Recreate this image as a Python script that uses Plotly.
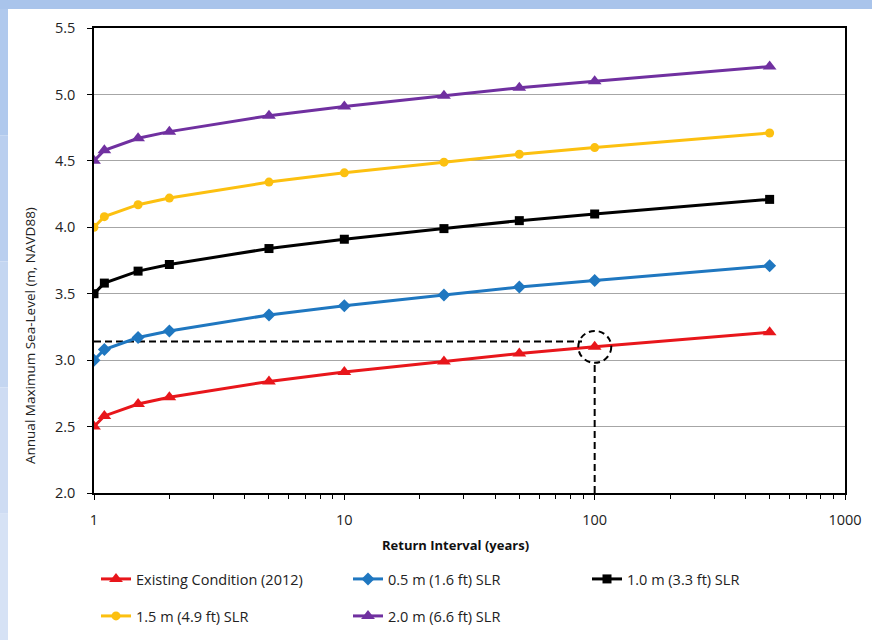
import plotly.graph_objects as go

# ---- data ----
return_interval = [1, 1.1, 1.5, 2, 5, 10, 25, 50, 100, 500]
existing_2012 = [2.50, 2.58, 2.67, 2.72, 2.84, 2.91, 2.99, 3.05, 3.10, 3.21]
slr_0_5 = [3.00, 3.08, 3.17, 3.22, 3.34, 3.41, 3.49, 3.55, 3.60, 3.71]
slr_1_0 = [3.50, 3.58, 3.67, 3.72, 3.84, 3.91, 3.99, 4.05, 4.10, 4.21]
slr_1_5 = [4.00, 4.08, 4.17, 4.22, 4.34, 4.41, 4.49, 4.55, 4.60, 4.71]
slr_2_0 = [4.50, 4.58, 4.67, 4.72, 4.84, 4.91, 4.99, 5.05, 5.10, 5.21]

names = ["Existing Condition (2012)", "0.5 m (1.6 ft) SLR", "1.0 m (3.3 ft) SLR",
         "1.5 m (4.9 ft) SLR", "2.0 m (6.6 ft) SLR"]
series = [existing_2012, slr_0_5, slr_1_0, slr_1_5, slr_2_0]
colors = ["#e8161b", "#1f77c0", "#000000", "#fcc010", "#7030a0"]
symbols = ["triangle-up", "diamond", "square", "circle", "triangle-up"]
sizes = [12, 10, 9, 9, 12]

x_ticks = [1, 10, 100, 1000]
x_ticktext = ["1", "10", "100", "1000"]
y_ticks = [2.0, 2.5, 3.0, 3.5, 4.0, 4.5, 5.0, 5.5]

x_title = "<b>Return Interval (years)</b>"
y_title = "Annual Maximum Sea-Level (m, NAVD88)"

# reference (dashed guide) values
ref_level = 3.14
ref_interval = 100
ref_h_end = 89
ref_v_top = 2.98
circle_x = [86, 116.5]
circle_y = [2.98, 3.22]

FONT = "Open Sans"
W, H = 872, 640
L, R, T, B = 94, 27, 28, 147
PW, PH = W - L - R, H - T - B

fig = go.Figure()

# dashed guide lines
fig.add_trace(go.Scatter(x=[1, ref_h_end], y=[ref_level, ref_level], mode="lines",
                         line=dict(color="black", width=2, dash="7px,4px"),
                         showlegend=False, hoverinfo="skip"))
fig.add_trace(go.Scatter(x=[ref_interval, ref_interval], y=[2.0, ref_v_top], mode="lines",
                         line=dict(color="black", width=2, dash="7px,4px"),
                         showlegend=False, hoverinfo="skip"))

# legend placements (container px): (text_x, y)
leg_pos = [(137, 579), (389, 579), (628, 579), (137, 616), (389, 616)]
leg_ids = ["legend", "legend2", "legend3", "legend4", "legend5"]

for i, (nm, ys) in enumerate(zip(names, series)):
    fig.add_trace(go.Scatter(
        x=return_interval, y=ys, name=nm, mode="lines+markers",
        line=dict(color=colors[i], width=3),
        marker=dict(symbol=symbols[i], size=sizes[i], color=colors[i]),
        legend=leg_ids[i],
    ))

legend_layouts = {}
for lid, (tx, ty) in zip(leg_ids, leg_pos):
    legend_layouts[lid] = dict(
        xref="container", yref="container",
        x=(tx - 41) / W, y=1 - ty / H,
        xanchor="left", yanchor="middle",
        bgcolor="rgba(0,0,0,0)", font=dict(family=FONT, size=14.5, color="#222"),
    )


def px_x(p):
    return (p - L) / PW


def px_y(p):
    return 1 - (p - T) / PH


shapes = [
    dict(type="rect", xref="paper", yref="paper", x0=px_x(0), x1=px_x(W),
         y0=px_y(9), y1=px_y(0), fillcolor="#a9c4eb", line=dict(width=0), layer="below"),
]
band_cols = ["#b0c9ed", "#bacfef", "#c4d6f1", "#cedcf3", "#d6e2f5"]
seg = (H - 9) / len(band_cols)
for k, c in enumerate(band_cols):
    shapes.append(dict(type="rect", xref="paper", yref="paper", x0=px_x(0), x1=px_x(8),
                       y0=px_y(9 + (k + 1) * seg), y1=px_y(9 + k * seg),
                       fillcolor=c, line=dict(width=0), layer="below"))
shapes.append(dict(type="circle", xref="x", yref="y",
                   x0=circle_x[0], x1=circle_x[1], y0=circle_y[0], y1=circle_y[1],
                   line=dict(color="black", width=2, dash="6px,4px")))

annotations = [
    dict(text=x_title, xref="paper", yref="paper", x=px_x(455), y=px_y(545),
         xanchor="center", yanchor="middle", showarrow=False,
         font=dict(family=FONT, size=13, color="#111")),
    dict(text=y_title, xref="paper", yref="paper", x=px_x(30), y=px_y(336),
         xanchor="center", yanchor="middle", showarrow=False, textangle=-90,
         font=dict(family=FONT, size=13.5, color="#222")),
]

fig.update_layout(
    width=W, height=H,
    margin=dict(l=L, r=R, t=T, b=B, autoexpand=False),
    paper_bgcolor="white", plot_bgcolor="white",
    font=dict(family=FONT, size=13, color="#222"),
    shapes=shapes, annotations=annotations,
    xaxis=dict(
        type="log", range=[0, 3], tickvals=x_ticks, ticktext=x_ticktext, tickangle=0,
        ticks="outside", ticklen=5, tickcolor="black", tickwidth=1, ticklabelstandoff=8,
        showline=True, linecolor="black", linewidth=1.5, mirror=True,
        showgrid=False, zeroline=False,
        minor=dict(dtick="D1", ticks="outside", ticklen=4, tickcolor="black", showgrid=False),
        tickfont=dict(size=14.5, color="#222"),
    ),
    yaxis=dict(
        range=[2.0, 5.5], tickvals=y_ticks, tickformat=".1f",
        ticks="outside", ticklen=5, tickcolor="black", ticklabelstandoff=9,
        showline=True, linecolor="black", linewidth=1.5, mirror=True,
        showgrid=True, gridcolor="#a6a6a6", gridwidth=1, zeroline=False,
        tickfont=dict(size=14.5, color="#222"),
    ),
    **legend_layouts,
)

fig.write_html("out.html", config={"displayModeBar": False},
               post_script="document.body.style.margin='0';document.body.style.overflow='hidden';")
